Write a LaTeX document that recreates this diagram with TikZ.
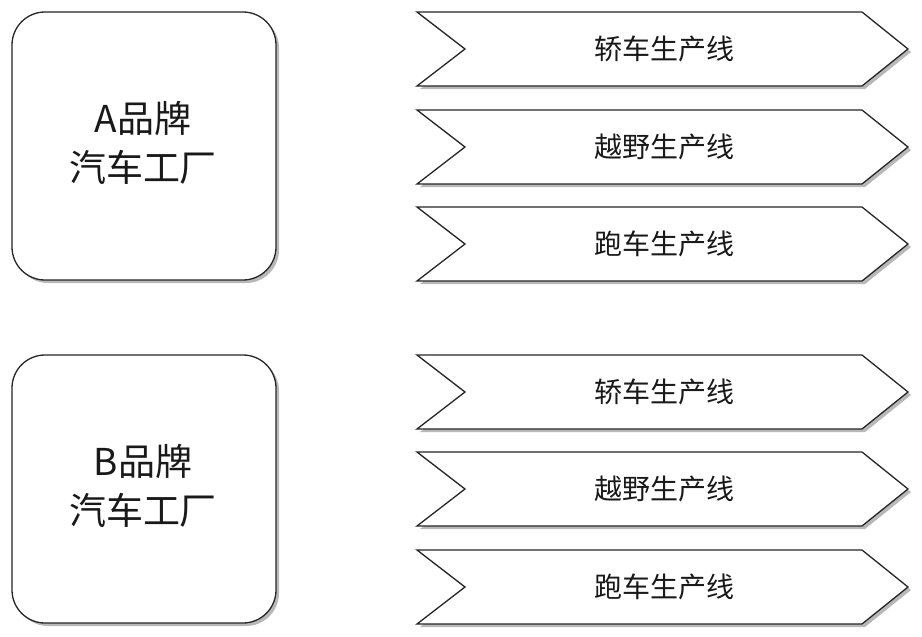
\documentclass[tikz,border=0pt]{standalone}
\usepackage{fontspec}
\newfontfamily\cjk{Noto Sans CJK SC}
\tikzset{
  boxline/.style={draw=black!85, line width=1.3pt, fill=white},
  shadowfill/.style={fill=black!28, draw=none},
  factorytext/.style={font=\cjk\fontsize{37}{49}\selectfont, align=center, text=black!90},
  linetext/.style={font=\cjk\fontsize{28}{34}\selectfont, text=black!90},
}
\newcommand{\chevron}[3]{% name, top y, text
  \fill[shadowfill] (420,#2+3) -- (865,#2+3) -- (911,#2+40) -- (865,#2+77) -- (420,#2+77) -- (468,#2+40) -- cycle;
  \draw[boxline] (417,#2) -- (862,#2) -- (908,#2+37) -- (862,#2+74) -- (417,#2+74) -- (465,#2+37) -- cycle;
  \node[linetext] (#1) at (664,#2+37) {#3};
}
\newcommand{\factory}[3]{% name, top y, text
  \fill[shadowfill, rounded corners=33pt] (15,#2+3) rectangle (279,#2+271);
  \draw[boxline, rounded corners=33pt] (12,#2) rectangle (276,#2+268);
  \node[factorytext] (#1) at (143,#2+131) {#3};
}
\begin{document}
\begin{tikzpicture}[x=1pt,y=-1pt]
\useasboundingbox (0,0) rectangle (922,637);
\fill[white] (0,0) rectangle (922,637);
\factory{fa}{12}{A品牌\\汽车工厂}
\factory{fb}{355}{B品牌\\汽车工厂}
\chevron{a1}{12}{轿车生产线}
\chevron{a2}{110}{越野生产线}
\chevron{a3}{207}{跑车生产线}
\chevron{b1}{355}{轿车生产线}
\chevron{b2}{452}{越野生产线}
\chevron{b3}{550}{跑车生产线}
\end{tikzpicture}
\end{document}
